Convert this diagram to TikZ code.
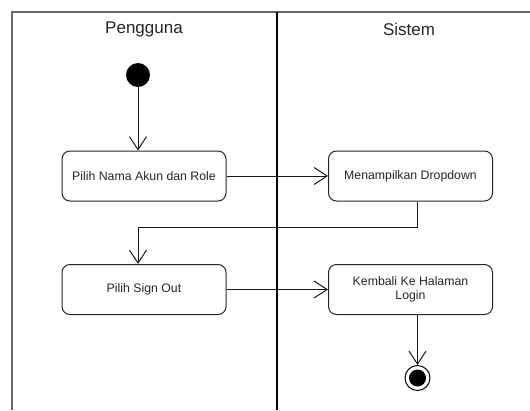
\documentclass[tikz,border=0pt]{standalone}
\usepackage{fontspec}
\setmainfont{Liberation Sans}
\usetikzlibrary{arrows.meta}
\begin{document}
\begin{tikzpicture}[x=1pt,y=-1pt,
  lane/.style={draw=black!60,line width=1.3pt},
  divider/.style={draw=black,line width=1.8pt},
  lanetitle/.style={font=\fontsize{17}{20}\selectfont,text=black!85},
  action/.style={draw=black!85,line width=1pt,rounded corners=8pt,
    minimum width=164pt,minimum height=50pt,align=center,
    font=\fontsize{12.3}{14.5}\selectfont,text=black!85,inner sep=2pt},
  flow/.style={draw=black!90,line width=1pt,
    -{Straight Barb[length=13pt,width=17pt,line width=1pt]}},
  startnode/.style={circle,fill=black,minimum size=24pt,inner sep=0pt},
  endnode/.style={circle,draw=black,line width=1pt,fill=white,
    minimum size=25pt,inner sep=0pt,
    path picture={\fill[black] (path picture bounding box.center) circle (8.5pt);}}
]
\useasboundingbox (0,0) rectangle (530,410);
\fill[white] (0,0) rectangle (530,410);

% swimlane frame
\draw[lane] (12,410) -- (12,12) -- (530,12);
\draw[divider] (277,12) -- (277,410);
\node[lanetitle] (lane1) at (144,29) {Pengguna};
\node[lanetitle] (lane2) at (409,29) {Sistem};

% activities
\node[startnode] (start) at (138,75) {};
\node[action] (b1) at (144,176) {Pilih Nama Akun dan Role};
\node[action] (b2) at (410.5,176) {Menampilkan Dropdown};
\node[action] (b3) at (144,289.5) {Pilih Sign Out};
\node[action] (b4) at (410.5,289.5) {Kembali Ke Halaman\\Login};
\node[endnode] (fin) at (417.5,378) {};
\coordinate (turn) at (0,227);

% control flow
\draw[flow] (start) -- (start |- b1.north);
\draw[flow] (b1.east) -- (b2.west);
\draw[flow] (b2.south -| fin) -- (fin |- turn) -- (start |- turn) -- (start |- b3.north);
\draw[flow] (b3.east) -- (b4.west);
\draw[flow] (b4.south -| fin) -- (fin.north);
\end{tikzpicture}
\end{document}
